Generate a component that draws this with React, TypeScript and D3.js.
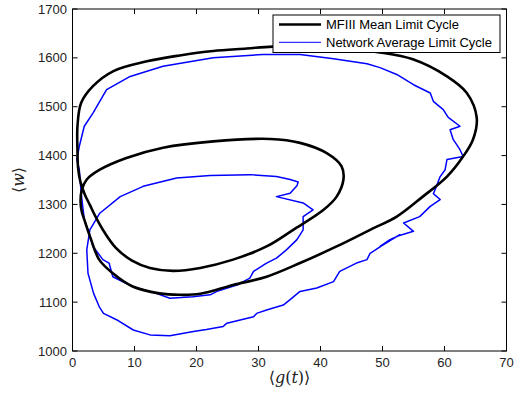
import React from "react";
import * as d3 from "d3";

const xTicks = [0, 10, 20, 30, 40, 50, 60, 70];
const yTicks = [1000, 1100, 1200, 1300, 1400, 1500, 1600, 1700];
const legendLabels = ["MFIII Mean Limit Cycle", "Network Average Limit Cycle"];

// MFIII mean limit cycle (period-2 closed orbit)
const mfG = [65.2, 63.6, 60.4, 54.9, 49.6, 41.5, 32.3, 28.1, 22.7, 17.3, 12.0, 6.6, 3.3, 1.4, 0.8, 0.8, 0.9, 1.3, 2.0, 2.8, 3.8, 5.1, 7.0, 9.6, 12.5, 16.2, 20.6, 25.9, 31.3, 35.6, 40.5, 42.6, 43.7, 43.4, 41.0, 36.7, 31.9, 22.7, 14.6, 8.7, 4.4, 2.3, 1.5, 1.3, 1.5, 1.9, 3.0, 4.3, 6.5, 9.7, 14.0, 17.3, 20.6, 25.9, 31.3, 36.7, 42.6, 48.0, 52.3, 56.5, 60.4, 63.0, 64.6];
const mfW = [1477, 1528, 1562, 1597, 1611, 1621, 1623, 1619, 1614, 1605, 1593, 1573, 1542, 1508, 1460, 1412, 1375, 1345, 1320, 1299, 1273, 1244, 1211, 1185, 1170, 1164, 1170, 1187, 1214, 1248, 1289, 1316, 1351, 1378, 1405, 1426, 1434, 1429, 1416, 1395, 1371, 1351, 1330, 1305, 1285, 1269, 1228, 1187, 1159, 1132, 1118, 1115, 1117, 1135, 1152, 1180, 1214, 1248, 1275, 1316, 1357, 1398, 1433];

// Network average limit cycle (noisy)
const netG = [49.6, 51.2, 52.6, 55.0, 53.4, 56.0, 57.7, 59.3, 58.2, 58.7, 59.3, 60.1, 60.4, 63.0, 62.5, 61.4, 60.9, 62.5, 60.6, 59.8, 58.2, 57.7, 55.0, 52.3, 49.6, 47.5, 42.1, 36.7, 30.7, 22.7, 14.6, 9.3, 5.5, 3.3, 1.9, 1.1, 0.7, 1.1, 1.4, 1.9, 2.7, 3.3, 4.9, 5.9, 6.5, 9.7, 13.5, 15.7, 19.4, 22.2, 23.3, 26.5, 28.6, 29.2, 31.3, 32.9, 34.5, 36.2, 37.2, 37.2, 38.8, 37.2, 32.9, 35.1, 36.2, 36.4, 35.1, 32.9, 28.6, 22.2, 16.8, 11.4, 7.7, 4.4, 2.8, 2.3, 2.5, 3.4, 4.3, 5.0, 7.1, 9.8, 12.5, 15.7, 19.5, 21.6, 24.3, 24.9, 29.2, 29.7, 31.3, 34.0, 35.1, 36.7, 39.4, 42.1, 43.1, 45.8, 47.5, 48.0, 50.1, 52.8];
const netW = [1214, 1228, 1236, 1245, 1262, 1275, 1296, 1310, 1322, 1337, 1357, 1371, 1392, 1398, 1412, 1433, 1453, 1460, 1478, 1494, 1511, 1528, 1545, 1566, 1580, 1588, 1598, 1607, 1607, 1600, 1583, 1562, 1535, 1487, 1460, 1419, 1392, 1371, 1323, 1269, 1241, 1214, 1187, 1180, 1152, 1132, 1118, 1108, 1111, 1115, 1122, 1135, 1149, 1163, 1180, 1190, 1207, 1228, 1248, 1275, 1289, 1303, 1316, 1323, 1338, 1346, 1351, 1357, 1361, 1359, 1354, 1337, 1316, 1282, 1248, 1207, 1159, 1118, 1091, 1077, 1064, 1043, 1033, 1031, 1040, 1044, 1050, 1057, 1070, 1077, 1084, 1094, 1105, 1122, 1129, 1142, 1163, 1180, 1187, 1200, 1217, 1238];

const W = 518, H = 398;
const L = 72.5, R = 506.5, T = 9, B = 351;

export default function App() {
  const x = d3.scaleLinear().domain([0, 70]).range([L, R]);
  const y = d3.scaleLinear().domain([1000, 1700]).range([B, T]);
  const mfPts: [number, number][] = mfG.map((g, i) => [x(g), y(mfW[i])]);
  const netPts: [number, number][] = netG.map((g, i) => [x(g), y(netW[i])]);
  const mfPath = d3.line().curve(d3.curveCatmullRomClosed.alpha(0.5))(mfPts) || "";
  const netPath = d3.line().curve(d3.curveLinearClosed)(netPts) || "";
  const font = "'Liberation Sans', Arial, Helvetica, sans-serif";
  const tick = 5;
  return (
    <svg width={W} height={H} style={{ position: "absolute", left: 0, top: 0, background: "#fff" }}>
      <rect x={0} y={0} width={W} height={H} fill="#fff" />
      <defs>
        <clipPath id="plotclip">
          <rect x={L} y={T} width={R - L} height={B - T} />
        </clipPath>
      </defs>
      <g clipPath="url(#plotclip)">
        <path d={netPath} fill="none" stroke="#0000ff" strokeWidth={1.5} strokeLinejoin="round" />
        <path d={mfPath} fill="none" stroke="#000" strokeWidth={2.6} />
      </g>
      <rect x={L} y={T} width={R - L} height={B - T} fill="none" stroke="#000" strokeWidth={1} />
      {xTicks.map((t) => (
        <g key={"x" + t}>
          <line x1={x(t)} x2={x(t)} y1={B} y2={B - tick} stroke="#000" />
          <line x1={x(t)} x2={x(t)} y1={T} y2={T + tick} stroke="#000" />
          <text x={x(t)} y={367} textAnchor="middle" fontFamily={font} fontSize={13} fill="#222">{t}</text>
        </g>
      ))}
      {yTicks.map((t) => (
        <g key={"y" + t}>
          <line x1={L} x2={L + tick} y1={y(t)} y2={y(t)} stroke="#000" />
          <line x1={R} x2={R - tick} y1={y(t)} y2={y(t)} stroke="#000" />
          <text x={67} y={y(t) + 4.6} textAnchor="end" fontFamily={font} fontSize={13} fill="#222">{t}</text>
        </g>
      ))}
      <text x={(L + R) / 2} y={383} textAnchor="middle" fontFamily="'DejaVu Serif', 'Liberation Serif', serif" fontSize={16} fill="#222">
        <tspan>⟨</tspan><tspan fontStyle="italic">g</tspan><tspan>(</tspan><tspan fontStyle="italic">t</tspan><tspan>)⟩</tspan>
      </text>
      <text transform={`translate(24, ${(T + B) / 2}) rotate(-90)`} textAnchor="middle" fontFamily="'DejaVu Serif', 'Liberation Serif', serif" fontSize={16} fill="#222">
        <tspan>⟨</tspan><tspan fontStyle="italic">w</tspan><tspan>⟩</tspan>
      </text>
      <g>
        <rect x={273} y={15} width={227} height={37.5} fill="#fff" stroke="#000" strokeWidth={1} />
        <line x1={279} x2={321} y1={24.5} y2={24.5} stroke="#000" strokeWidth={2.6} />
        <line x1={279} x2={321} y1={42.3} y2={42.3} stroke="#0000ff" strokeWidth={1} />
        <text x={326} y={29} fontFamily={font} fontSize={13} fill="#000">{legendLabels[0]}</text>
        <text x={326} y={47} fontFamily={font} fontSize={13} fill="#000">{legendLabels[1]}</text>
      </g>
    </svg>
  );
}
